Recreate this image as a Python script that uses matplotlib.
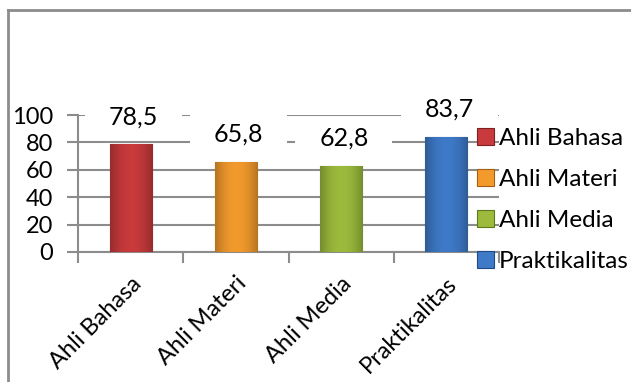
import numpy as np
import matplotlib
matplotlib.use('Agg')
import matplotlib.pyplot as plt
from matplotlib.patches import Rectangle
from matplotlib.lines import Line2D
from matplotlib.colors import to_rgb

kategori = ['Ahli Bahasa', 'Ahli Materi', 'Ahli Media', 'Praktikalitas']
nilai = [78.5, 65.8, 62.8, 83.7]
label_nilai = ['78,5', '65,8', '62,8', '83,7']
warna = ['#C83A3C', '#F29A2C', '#9CBB3C', '#3E7AC8']
warna_tepi = ['#7E1F22', '#A65E12', '#5F7A1E', '#1F4A86']
y_ticks = [0, 20, 40, 60, 80, 100]

plt.rcParams['font.family'] = ['Lato', 'DejaVu Sans']

fig = plt.figure(figsize=(6.31, 3.82), dpi=100)
ax = fig.add_axes([78 / 631, 1 - 252 / 382, 421 / 631, 137 / 382])

x = np.arange(len(kategori))
bars = ax.bar(x, nilai, width=0.4, color=warna, edgecolor=warna_tepi,
              linewidth=0.8, zorder=3)

# efek gradasi sederhana di tiap batang
for b, c in zip(bars, warna):
    r, g, bl = to_rgb(c)
    t = np.linspace(-1, 1, 64)
    fac = 1 - 0.25 * np.abs(t) ** 2
    grad = np.array([[[r * f, g * f, bl * f] for f in fac]])
    im = ax.imshow(grad, extent=[b.get_x(), b.get_x() + b.get_width(), 0, b.get_height()],
                   aspect='auto', zorder=3.5)
    im.set_clip_path(b)

ax.set_xlim(-0.5, len(kategori) - 0.5)
ax.set_ylim(0, 100)
ax.set_yticks(y_ticks)
ax.set_yticklabels([str(v) for v in y_ticks], fontsize=17)
ax.yaxis.grid(True, color='#8c8c8c', linewidth=1.5, zorder=0)
ax.tick_params(axis='y', length=8, width=1.5, color='#8c8c8c', pad=10)

ax.set_xticks(x)
ax.set_xticklabels(kategori, fontsize=17, rotation=45, ha='right',
                   rotation_mode='anchor')
ax.tick_params(axis='x', which='major', length=0, pad=15)
ax.set_xticks(np.arange(len(kategori) + 1) - 0.5, minor=True)
ax.tick_params(axis='x', which='minor', length=8, width=1.5, color='#8c8c8c')

for s in ['top', 'right']:
    ax.spines[s].set_visible(False)
for s in ['left', 'bottom']:
    ax.spines[s].set_color('#8c8c8c')
    ax.spines[s].set_linewidth(1.5)

for xi, v, lab in zip(x, nilai, label_nilai):
    ax.annotate(lab, (xi, v), xytext=(2, 20), textcoords='offset points',
                ha='center', va='center', fontsize=18, zorder=5,
                bbox=dict(boxstyle='square,pad=0.95', mutation_aspect=0.4,
                          fc='white', ec='none'),
                annotation_clip=False)

handles = [Rectangle((0, 0), 1, 1, facecolor=c, edgecolor=e, linewidth=0.8)
           for c, e in zip(warna, warna_tepi)]
fig.legend(handles, kategori, loc='upper left', bbox_to_anchor=(477 / 631, 1 - 128 / 382),
           frameon=False, fontsize=17.5, handlelength=0.7, handleheight=0.7,
           handletextpad=0.2, labelspacing=0.82, borderaxespad=0, borderpad=0)

# bingkai grafik
fig.add_artist(Line2D([8 / 631, 1], [1 - 10 / 382] * 2, color='#8c8c8c', linewidth=2))
fig.add_artist(Line2D([8 / 631] * 2, [0, 1 - 10 / 382], color='#8c8c8c', linewidth=2))

fig.savefig('out.png', dpi=100)
